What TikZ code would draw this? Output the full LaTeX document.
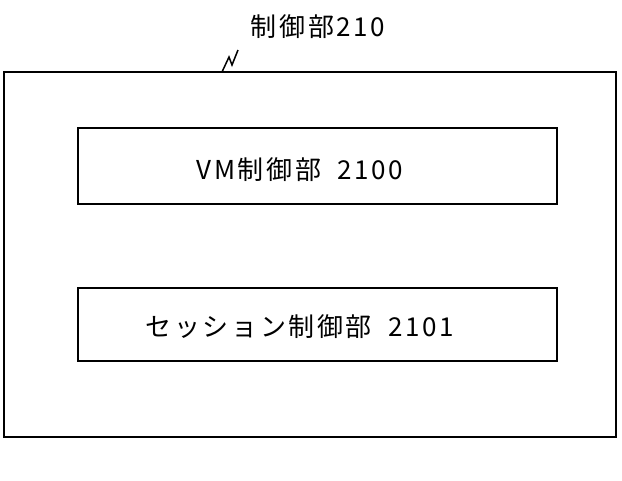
\documentclass[tikz,border=0pt]{standalone}
\usepackage{fontspec}
\setmainfont{Noto Sans CJK JP}[LetterSpace=10]
\begin{document}
\begin{tikzpicture}[x=1pt,y=-1pt,
  boxst/.style={draw,line width=2pt,inner sep=0pt},
  lbl/.style={font=\fontsize{26}{30}\selectfont}]
\useasboundingbox (0,0) rectangle (622,480);
\node[boxst,minimum width=612,minimum height=365] (outer) at (310,254.5) {};
\node[boxst,minimum width=479,minimum height=76] (vm) at (317.5,166) {};
\node[lbl] (vmt) at (300,170) {VM制御部\ \ 2100};
\node[boxst,minimum width=479,minimum height=73] (ses) at (317.5,324.5) {};
\node[lbl] (sest) at (300,327) {セッション制御部\ \ 2101};
\node[lbl] (top) at (318,27) {制御部210};
\coordinate (s1) at (222,72);
\coordinate (s2) at (238,50);
\draw[line width=1.5pt] (s1) -- (229,57) -- (232,65) -- (s2);
\end{tikzpicture}
\end{document}
